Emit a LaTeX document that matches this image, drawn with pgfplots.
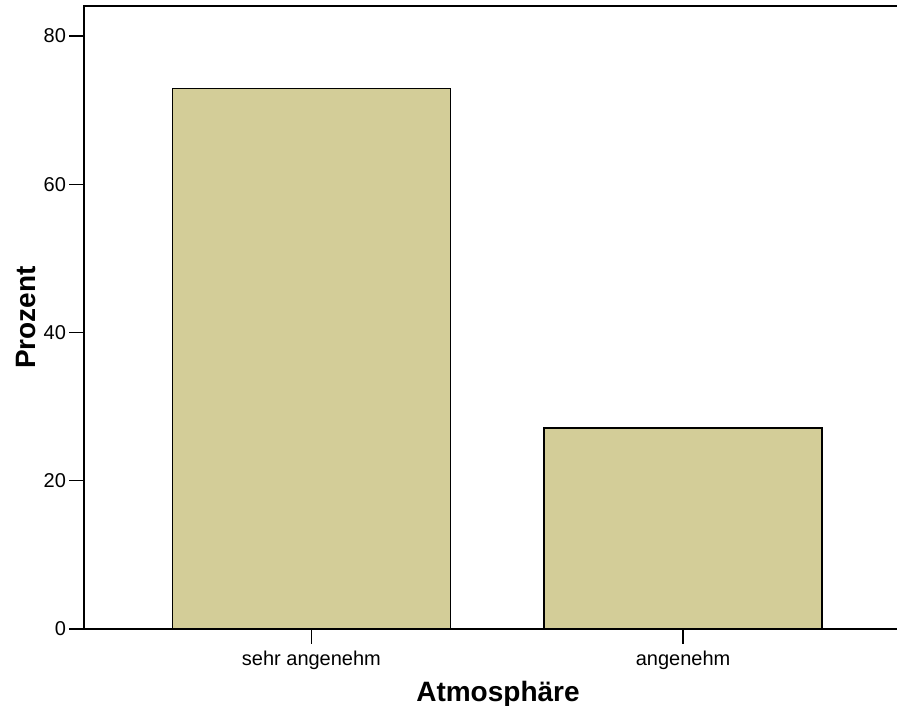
\documentclass[border=0pt]{standalone}
\usepackage{pgfplots}
\pgfplotsset{compat=1.18}
\usepackage{fontspec}
\setmainfont{Liberation Sans}
\definecolor{barfill}{RGB}{211,205,152}

\begin{document}
\begin{tikzpicture}
  \begin{axis}[
      scale only axis,
      width=621pt,
      height=467.25pt,
      xmin=-0.612, xmax=1.616,
      ymin=0, ymax=84.05,
      xtick={0,1},
      xticklabels={sehr angenehm, angenehm},
      ytick={0,20,40,60,80},
      tick align=outside,
      xtick pos=bottom,
      ytick pos=left,
      major tick length=11pt,
      tick style={line width=1pt, black},
      axis line style={line width=1.6pt},
      /pgf/number format/assume math mode=true,
      ticklabel style={font=\fontsize{15}{17}\selectfont},
      xticklabel style={yshift=-2pt},
      yticklabel style={xshift=1pt},
      ylabel={Prozent},
      xlabel={Atmosphäre},
      label style={font=\fontsize{21}{25}\selectfont\bfseries},
      xlabel style={at={(rel axis cs:0.5,0)}, anchor=north, yshift=-36pt},
      ylabel style={at={(rel axis cs:0,0.5)}, anchor=south, rotate=0, yshift=33pt},
      ybar, bar width=0.748, bar shift=0pt,
    ]
    \addplot[fill=barfill, draw=black, line width=1pt] coordinates {
      (0, 72.9)
      (1, 27.1)
    };
    \coordinate (o) at (rel axis cs:0,0);
  \end{axis}
  \pgfresetboundingbox
  \path (o) ++(-63pt,-57.75pt) rectangle ++(672.75pt,529.5pt);
\end{tikzpicture}
\end{document}
